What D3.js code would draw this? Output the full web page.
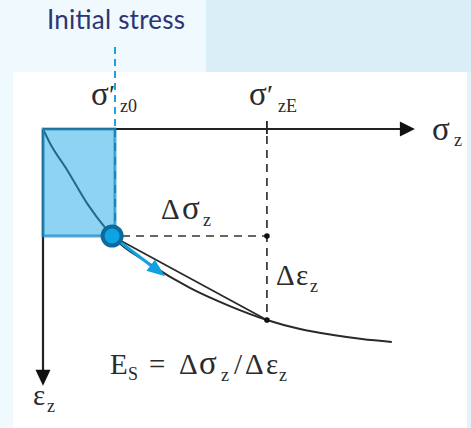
<!DOCTYPE html>
<html lang="en">

<head>
    <meta charset="UTF-8" />
    <title>Secant modulus from initial stress</title>
    <script src="https://d3js.org/d3.v7.min.js"></script>
    <style>
        body {
            margin: 0;
            background: #f0f9fe;
        }

        svg {
            display: block;
        }

        .math {
            font-family: "Liberation Serif", "DejaVu Serif", serif;
            fill: #2b2b2b;
        }
    </style>
</head>

<body>
    <svg id="chart" width="471" height="428"></svg>

    <script>
        // stress-strain curve (sigma_z, eps_z), arbitrary units
        const curveSigma = [0, 0.19, 0.67, 1.22, 1.78, 1.92, 2.97, 4.08, 5.19, 6.22, 7.14, 8.06, 8.86, 9.69];
        const curveEps = [0, 0.52, 1.53, 2.77, 3.78, 4.0, 5.05, 5.94, 6.62, 7.14, 7.48, 7.70, 7.85, 7.96];

        const sigma0 = 2.0;       // initial stress sigma'_z0
        const sigmaE = 6.22;      // final stress sigma'_zE
        const startPoint = [1.92, 4.0];
        const endPoint = [6.22, 7.14];
        const tangentTip = [3.39, 5.5];

        const axisEnd = { sigma: 10.33, eps: 9.6 };

        const width = 471, height = 428;
        const svg = d3.select("#chart");

        const x = d3.scaleLinear().domain([0, 10]).range([43, 403]);
        const y = d3.scaleLinear().domain([0, 10]).range([129, 396.5]);

        // backgrounds
        svg.append("rect").attr("x", 0).attr("y", 0).attr("width", width).attr("height", height).attr("fill", "#f0f9fe");
        svg.append("rect").attr("x", 206).attr("y", 0).attr("width", width - 206).attr("height", 72).attr("fill", "#daeef8");
        svg.append("rect").attr("x", 467).attr("y", 72).attr("width", 4).attr("height", height - 72).attr("fill", "#e4f2fa");
        svg.append("rect").attr("x", 13).attr("y", 72).attr("width", 454).attr("height", height - 72).attr("fill", "#ffffff");

        svg.append("text")
            .attr("x", 47).attr("y", 29)
            .attr("font-family", "Lato, 'Open Sans', sans-serif")
            .attr("font-size", 26)
            .attr("fill", "#2a3574")
            .attr("textLength", 138)
            .text("Initial stress");

        // dashed guides
        const dash = "8,6";
        svg.append("line")
            .attr("x1", x(sigma0)).attr("x2", x(sigma0))
            .attr("y1", y(0)).attr("y2", y(startPoint[1]))
            .attr("stroke", "#333").attr("stroke-width", 1.7).attr("stroke-dasharray", dash);
        svg.append("line")
            .attr("x1", x(sigmaE)).attr("x2", x(sigmaE))
            .attr("y1", y(0) + 7).attr("y2", y(endPoint[1]))
            .attr("stroke", "#333").attr("stroke-width", 1.7).attr("stroke-dasharray", dash);
        svg.append("line")
            .attr("x1", x(sigma0) + 7).attr("x2", x(sigmaE))
            .attr("y1", y(startPoint[1])).attr("y2", y(startPoint[1]))
            .attr("stroke", "#333").attr("stroke-width", 1.7).attr("stroke-dasharray", dash);

        // axes
        svg.append("line")
            .attr("x1", x(0)).attr("x2", x(axisEnd.sigma) - 14)
            .attr("y1", y(0)).attr("y2", y(0))
            .attr("stroke", "#222").attr("stroke-width", 2.2);
        svg.append("path")
            .attr("d", `M${x(axisEnd.sigma)},${y(0)} l-15,-7.5 l0,15 z`)
            .attr("fill", "#111");
        svg.append("line")
            .attr("x1", x(0)).attr("x2", x(0))
            .attr("y1", y(0)).attr("y2", y(axisEnd.eps) - 14)
            .attr("stroke", "#222").attr("stroke-width", 2.2);
        svg.append("path")
            .attr("d", `M${x(0)},${y(axisEnd.eps)} l-7.5,-16 l15,0 z`)
            .attr("fill", "#111");
        // tick at sigma'_zE
        svg.append("line")
            .attr("x1", x(sigmaE)).attr("x2", x(sigmaE))
            .attr("y1", y(0) - 8).attr("y2", y(0) + 5)
            .attr("stroke", "#222").attr("stroke-width", 1.8);

        // curve and secant
        const line = d3.line()
            .x((d, i) => x(curveSigma[i]))
            .y((d, i) => y(curveEps[i]))
            .curve(d3.curveMonotoneX);
        svg.append("path")
            .datum(curveSigma)
            .attr("d", line)
            .attr("fill", "none")
            .attr("stroke", "#2a2a2a").attr("stroke-width", 2);
        svg.append("line")
            .attr("x1", x(startPoint[0])).attr("y1", y(startPoint[1]))
            .attr("x2", x(endPoint[0])).attr("y2", y(endPoint[1]))
            .attr("stroke", "#2a2a2a").attr("stroke-width", 1.8);

        svg.append("circle").attr("cx", x(sigmaE)).attr("cy", y(startPoint[1])).attr("r", 2.8).attr("fill", "#111");
        svg.append("circle").attr("cx", x(endPoint[0])).attr("cy", y(endPoint[1])).attr("r", 2.8).attr("fill", "#111");

        // initial stress box
        svg.append("rect")
            .attr("x", x(0)).attr("y", y(0))
            .attr("width", x(sigma0) - x(0)).attr("height", y(startPoint[1]) - y(0))
            .attr("fill", "#1fa8e6").attr("fill-opacity", 0.5)
            .attr("stroke", "#1a8cc4").attr("stroke-opacity", 0.75).attr("stroke-width", 3);

        svg.append("line")
            .attr("x1", x(sigma0)).attr("x2", x(sigma0))
            .attr("y1", 47).attr("y2", y(0))
            .attr("stroke", "#1ea2de").attr("stroke-width", 2).attr("stroke-dasharray", "7,5");

        // tangent arrow
        const ax0 = x(startPoint[0]), ay0 = y(startPoint[1]);
        const ax1 = x(tangentTip[0]), ay1 = y(tangentTip[1]);
        const ang = Math.atan2(ay1 - ay0, ax1 - ax0);
        const head = 18, hw = 7;
        const bx = ax1 - head * Math.cos(ang), by = ay1 - head * Math.sin(ang);
        svg.append("line")
            .attr("x1", ax0).attr("y1", ay0).attr("x2", bx).attr("y2", by)
            .attr("stroke", "#12a0e2").attr("stroke-width", 3);
        svg.append("path")
            .attr("d", `M${ax1},${ay1} L${bx - hw * Math.sin(ang)},${by + hw * Math.cos(ang)} L${bx + hw * Math.sin(ang)},${by - hw * Math.cos(ang)} Z`)
            .attr("fill", "#12a0e2");

        svg.append("circle")
            .attr("cx", ax0).attr("cy", ay0).attr("r", 9.5)
            .attr("fill", "#0ea3e4").attr("stroke", "#0b6b9d").attr("stroke-width", 4);

        // labels: each piece placed at its own x, y (baseline)
        function label(parts) {
            const t = svg.append("text").attr("class", "math");
            parts.forEach(p => {
                t.append("tspan")
                    .attr("x", p.x).attr("y", p.y)
                    .attr("font-size", p.size)
                    .text(p.text);
            });
            return t;
        }

        label([
            { text: "σ", size: 33, x: 91, y: 105 },
            { text: "′", size: 28, x: 109, y: 104 },
            { text: "z0", size: 18, x: 120, y: 112 }
        ]);
        label([
            { text: "σ", size: 33, x: 249, y: 105 },
            { text: "′", size: 28, x: 267, y: 104 },
            { text: "zE", size: 18, x: 278, y: 112 }
        ]);
        label([
            { text: "σ", size: 33, x: 432, y: 140 },
            { text: "z", size: 18, x: 454, y: 146 }
        ]);
        label([
            { text: "ε", size: 29, x: 33, y: 405 },
            { text: "z", size: 18, x: 47, y: 412 }
        ]);
        label([
            { text: "Δ", size: 29, x: 161, y: 219 },
            { text: "σ", size: 33, x: 182, y: 219 },
            { text: "z", size: 18, x: 203, y: 226 }
        ]);
        label([
            { text: "Δ", size: 29, x: 276, y: 285 },
            { text: "ε", size: 29, x: 296, y: 285 },
            { text: "z", size: 18, x: 310, y: 292 }
        ]);
        label([
            { text: "E", size: 29, x: 110, y: 374 },
            { text: "S", size: 18, x: 128, y: 380 },
            { text: "=", size: 29, x: 149, y: 374 },
            { text: "Δ", size: 29, x: 179, y: 374 },
            { text: "σ", size: 33, x: 199, y: 374 },
            { text: "z", size: 18, x: 221, y: 381 },
            { text: "/", size: 29, x: 234, y: 374 },
            { text: "Δ", size: 29, x: 245, y: 374 },
            { text: "ε", size: 29, x: 266, y: 374 },
            { text: "z", size: 18, x: 279, y: 381 }
        ]);
    </script>
</body>

</html>
